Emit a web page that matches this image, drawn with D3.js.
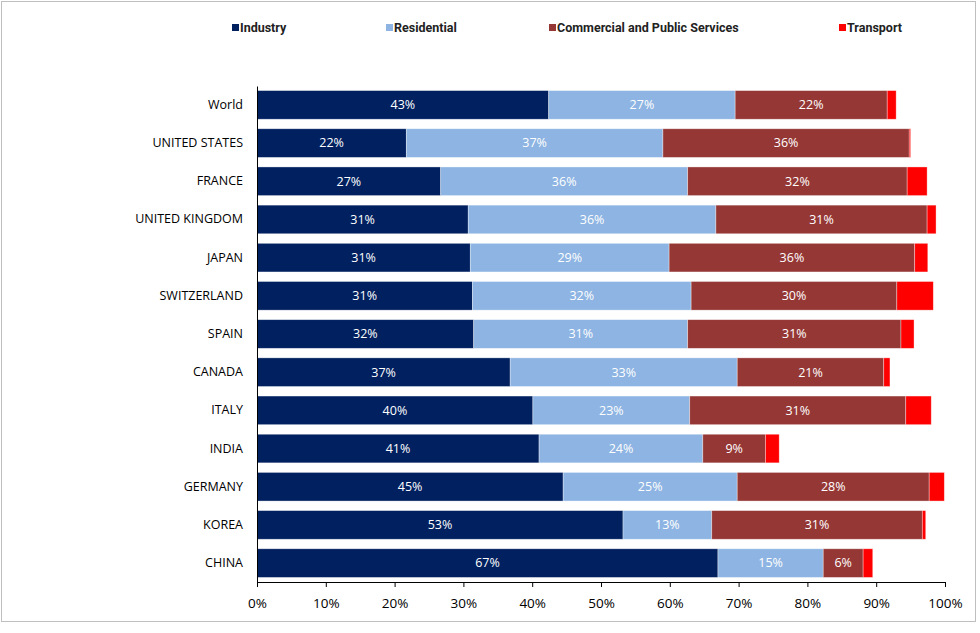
<!DOCTYPE html>
<html>
<head>
<meta charset="utf-8">
<script src="https://cdn.jsdelivr.net/npm/d3@7"></script>
<style>
  body { margin: 0; background: #fff; font-family: "Open Sans", "Liberation Sans", sans-serif; }
</style>
</head>
<body>
<svg></svg>
<script>
let countries = ["World", "UNITED STATES", "FRANCE", "UNITED KINGDOM", "JAPAN", "SWITZERLAND", "SPAIN", "CANADA", "ITALY", "INDIA", "GERMANY", "KOREA", "CHINA"];
let seriesNames = ["Industry", "Residential", "Commercial and Public Services", "Transport"];
let colors = ["#002060", "#8db4e2", "#953735", "#ff0000"];
let industry    = [42.4, 21.7, 26.7, 30.7, 31.0, 31.3, 31.5, 36.8, 40.1, 41.0, 44.5, 53.2, 67.0];
let residential = [27.1, 37.3, 35.9, 36.0, 28.9, 31.8, 31.1, 33.0, 22.8, 23.8, 25.3, 12.9, 15.3];
let commercial  = [22.1, 35.8, 31.9, 30.7, 35.7, 29.9, 31.0, 21.3, 31.4, 9.1, 27.9, 30.6, 5.8];
let transport   = [1.3, 0.2, 2.9, 1.3, 1.9, 5.3, 1.9, 0.9, 3.7, 2.0, 2.2, 0.5, 1.4];
let labels = [
    ["43%", "27%", "22%"], ["22%", "37%", "36%"], ["27%", "36%", "32%"], ["31%", "36%", "31%"],
    ["31%", "29%", "36%"], ["31%", "32%", "30%"], ["32%", "31%", "31%"], ["37%", "33%", "21%"],
    ["40%", "23%", "31%"], ["41%", "24%", "9%"], ["45%", "25%", "28%"], ["53%", "13%", "31%"],
    ["67%", "15%", "6%"]
];
let xTicks = [0, 10, 20, 30, 40, 50, 60, 70, 80, 90, 100];

let svgWidth = 980, svgHeight = 633;
let margin = { top: 86, right: 35, bottom: 51, left: 257 };
let width = svgWidth - margin.left - margin.right;
let height = svgHeight - margin.top - margin.bottom;

let svg = d3.select("svg").attr("width", svgWidth).attr("height", svgHeight);

svg.append("rect")
    .attr("x", 1.5).attr("y", 1.5)
    .attr("width", 974).attr("height", 620)
    .attr("fill", "none").attr("stroke", "#bfbfbf");

let g = svg.append("g").attr("transform", "translate(" + margin.left + "," + margin.top + ")");

let x = d3.scaleLinear().domain([0, 100]).range([0, width]);
let y = d3.scaleBand().domain(countries).range([0, height]).paddingInner(0.25).paddingOuter(0.12);

let rows = countries.map(function (c, i) {
    return { country: c, Industry: industry[i], Residential: residential[i],
        "Commercial and Public Services": commercial[i], Transport: transport[i], labels: labels[i] };
});
let stacked = d3.stack().keys(seriesNames)(rows);

stacked.forEach(function (layer, k) {
    let grp = g.append("g");
    grp.selectAll("rect").data(layer).enter().append("rect")
        .attr("x", function (d) { return x(d[0]) })
        .attr("y", function (d) { return y(d.data.country) })
        .attr("width", function (d) { return x(d[1]) - x(d[0]) })
        .attr("height", y.bandwidth())
        .attr("fill", colors[k])
        .attr("stroke", "#ffffff").attr("stroke-opacity", 0.5).attr("stroke-width", 0.7);
    if (k < 3) {
        grp.selectAll("text").data(layer).enter().append("text")
            .attr("x", function (d) { return x((d[0] + d[1]) / 2) })
            .attr("y", function (d) { return y(d.data.country) + y.bandwidth() / 2 })
            .attr("dy", "0.35em")
            .attr("text-anchor", "middle")
            .attr("fill", "#ffffff")
            .style("font-size", "12.5px")
            .text(function (d) { return d.data.labels[k] });
    }
});

let yAxis = g.append("g").call(d3.axisLeft(y).tickSize(0).tickPadding(14));
yAxis.select(".domain").attr("stroke", "#000");
yAxis.selectAll("text").style("font-size", "12.5px").attr("fill", "#000").style("font-family", "Open Sans, sans-serif");

let xAxis = g.append("g")
    .attr("transform", "translate(0," + height + ")")
    .call(d3.axisBottom(x).tickValues(xTicks).tickSize(5).tickFormat(function (d) { return d + "%" }));
xAxis.select(".domain").attr("stroke", "#000");
xAxis.selectAll("text").style("font-size", "13.5px").attr("fill", "#000").attr("dy", "1.3em").style("font-family", "Open Sans, sans-serif");

let legendX = [232, 386, 549, 839];
let legend = svg.append("g").selectAll("g").data(seriesNames).enter().append("g")
    .attr("transform", function (d, i) { return "translate(" + legendX[i] + ",28)" });
legend.append("rect").attr("x", 0).attr("y", -4).attr("width", 7).attr("height", 7)
    .attr("fill", function (d, i) { return colors[i] });
legend.append("text").attr("x", 8).attr("dy", "0.35em")
    .style("font-size", "12.5px").style("font-weight", "bold").attr("fill", "#222")
    .style("font-family", "Liberation Sans Narrow, Roboto, sans-serif")
    .text(function (d) { return d });
</script>
</body>
</html>
